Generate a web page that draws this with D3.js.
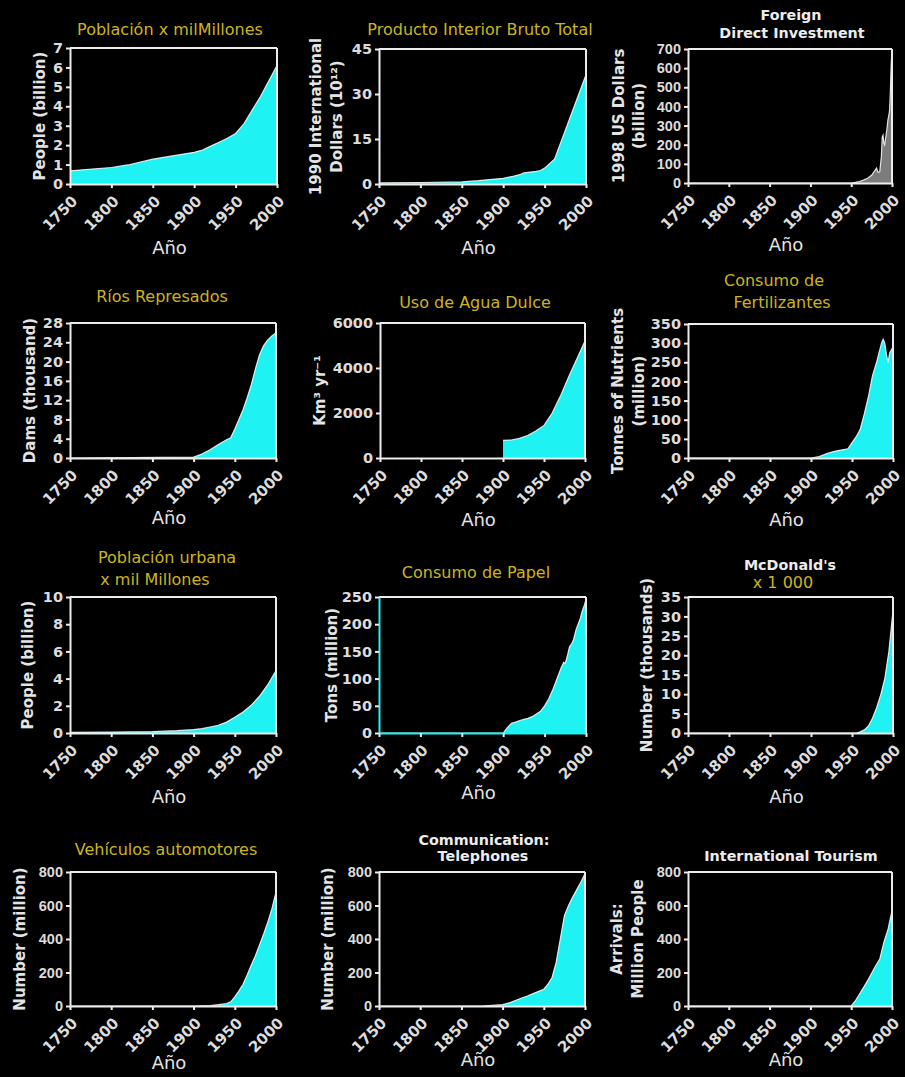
<!DOCTYPE html>
<html><head><meta charset="utf-8">
<script src="https://cdn.jsdelivr.net/npm/d3@7"></script>
<style>html,body{margin:0;background:#000;} svg{display:block;background:#000}</style>
</head><body><svg id="c" width="905" height="1077"></svg>
<script>
// ---------- DATA ----------
const xTickYears = [1750, 1800, 1850, 1900, 1950, 2000];

const popYears   = [1750,1800,1820,1850,1870,1900,1910,1920,1930,1940,1950,1955,1960,1970,1980,1990,2000];
const popValues  = [0.68,0.85,0.98,1.28,1.42,1.63,1.75,1.95,2.15,2.35,2.6,2.85,3.1,3.8,4.5,5.3,6.1];
const popTicks   = [0,1,2,3,4,5,6,7];

const gdpYears   = [1750,1800,1850,1870,1900,1913,1920,1925,1930,1940,1945,1950,1962,1970,1980,1990,2000];
const gdpValues  = [0.35,0.5,0.7,1.1,1.9,2.6,3.1,3.7,3.9,4.2,4.5,5.3,8.3,14.2,21.6,29,36.4];
const gdpTicks   = [0,15,30,45];

const fdiYears   = [1750,1950,1955,1960,1965,1970,1975,1979,1981,1983,1985,1987,1988,1989,1990,1991,1992,1993,1994,1995,1996,1997,1998,1999,2000];
const fdiValues  = [0,0,3,8,15,25,40,65,78,55,60,140,240,250,210,200,230,260,290,330,350,380,480,620,700];
const fdiTicks   = [0,100,200,300,400,500,600,700];

const damYears   = [1750,1900,1910,1920,1930,1940,1945,1950,1955,1960,1965,1970,1975,1980,1985,1990,1995,2000];
const damValues  = [0,0.2,0.8,1.7,2.8,3.8,4.2,6,8,10,12.5,15.2,18.5,21.4,23.3,24.5,25.3,26];
const damTicks   = [0,4,8,12,16,20,24,28];

const waterYears = [1900,1910,1920,1930,1940,1950,1960,1970,1980,1990,2000];
const waterValues= [780,800,870,1000,1200,1450,2000,2750,3600,4400,5200];
const waterTicks = [0,2000,4000,6000];

const fertYears  = [1750,1900,1910,1920,1930,1940,1945,1950,1955,1960,1965,1970,1975,1980,1983,1986,1988,1990,1992,1994,1996,2000];
const fertValues = [0,0,4,12,18,22,24,40,55,75,115,160,215,250,275,300,310,300,270,250,275,290];
const fertTicks  = [0,50,100,150,200,250,300,350];

const urbYears   = [1750,1800,1850,1880,1900,1910,1920,1930,1940,1950,1960,1970,1980,1990,2000];
const urbValues  = [0.05,0.07,0.1,0.17,0.25,0.32,0.44,0.57,0.8,1.15,1.55,2.05,2.7,3.55,4.6];
const urbTicks   = [0,2,4,6,8,10];

const papYears   = [1750,1900,1905,1910,1915,1920,1925,1930,1935,1940,1945,1950,1955,1960,1965,1970,1973,1975,1978,1980,1983,1985,1988,1990,1993,1995,1998,2000];
const papValues  = [0,0,10,18,20,23,25,27,30,35,40,50,63,80,100,120,130,128,145,158,165,172,190,198,210,222,235,245];
const papTicks   = [0,50,100,150,200,250];

const mcdYears   = [1750,1955,1960,1965,1970,1975,1980,1985,1990,1995,2000];
const mcdValues  = [0,0,0.3,0.8,1.8,3.8,6.5,9.8,14,21,31.5];
const mcdTicks   = [0,5,10,15,20,25,30,35];

const vehYears   = [1750,1900,1920,1930,1940,1945,1950,1955,1960,1965,1970,1975,1980,1985,1990,1995,2000];
const vehValues  = [0,0,3,8,15,25,55,90,130,185,245,300,365,430,500,580,680];
const vehTicks   = [0,200,400,600,800];

const telYears   = [1750,1875,1900,1910,1920,1930,1940,1950,1955,1960,1965,1970,1975,1980,1985,1990,1995,2000];
const telValues  = [0,0,8,22,42,60,80,100,130,170,260,400,540,600,650,695,740,790];
const telTicks   = [0,200,400,600,800];

const touYears   = [1750,1950,1955,1960,1965,1970,1975,1980,1985,1990,1995,2000];
const touValues  = [0,0,30,70,110,150,195,240,280,380,455,570];
const touTicks   = [0,200,400,600,800];

// ---------- STYLE / LAYOUT ----------
const YEL = "#ccb51c", WHT = "#ececec", CYAN = "#1ff2f2";
const FD = "'DejaVu Sans', sans-serif", FL = "'Liberation Sans', Arial, sans-serif";

const panels = [
 {years:popYears, values:popValues, ticks:popTicks, box:[70,48,277,184],
  title:[{t:"Población x milMillones",x:170,y:29,c:YEL}], ylab:[{t:"People (billion)",x:40}], anoY:248, yf:FD},
 {years:gdpYears, values:gdpValues, ticks:gdpTicks, box:[379,49,586,184],
  title:[{t:"Producto Interior Bruto Total",x:480,y:29,c:YEL}], ylab:[{t:"1990 International",x:316},{t:"Dollars (10¹²)",x:337}], anoY:248, yf:FD},
 {years:fdiYears, values:fdiValues, ticks:fdiTicks, box:[688,49,892,183], fill:"#7c7c7c",
  title:[{t:"Foreign",x:791,y:15,c:WHT,b:1},{t:"Direct Investment",x:792,y:33,c:WHT,b:1}], ylab:[{t:"1998 US Dollars",x:619},{t:"(billion)",x:639}], anoY:245, yf:FL},
 {years:damYears, values:damValues, ticks:damTicks, box:[70,323,276,458],
  title:[{t:"Ríos Represados",x:162,y:296,c:YEL}], ylab:[{t:"Dams (thousand)",x:30}], anoY:518, yf:FD},
 {years:waterYears, values:waterValues, ticks:waterTicks, box:[380,323,585,458],
  title:[{t:"Uso de Agua Dulce",x:475,y:302,c:YEL}], ylab:[{t:"Km³ yr⁻¹",x:320}], anoY:520, yf:FD},
 {years:fertYears, values:fertValues, ticks:fertTicks, box:[688,324,893,458],
  title:[{t:"Consumo de",x:774,y:280,c:YEL},{t:"Fertilizantes",x:782,y:302,c:YEL}], ylab:[{t:"Tonnes of Nutrients",x:618},{t:"(million)",x:639}], anoY:520, yf:FD},
 {years:urbYears, values:urbValues, ticks:urbTicks, box:[70,597,276,733],
  title:[{t:"Población urbana",x:167,y:557,c:YEL},{t:"x mil Millones",x:155,y:579,c:YEL}], ylab:[{t:"People (billion)",x:28}], anoY:797, yf:FD},
 {years:papYears, values:papValues, ticks:papTicks, box:[379,597,586,733], edge:CYAN,
  title:[{t:"Consumo de Papel",x:476,y:572,c:YEL}], ylab:[{t:"Tons (million)",x:332}], anoY:793, yf:FD},
 {years:mcdYears, values:mcdValues, ticks:mcdTicks, box:[688,597,893,733],
  title:[{t:"McDonald's",x:790,y:565,c:WHT,b:1},{t:"x 1 000",x:783,y:582,c:YEL}], ylab:[{t:"Number (thousands)",x:647}], anoY:797, yf:FD},
 {years:vehYears, values:vehValues, ticks:vehTicks, box:[70,872,276,1006],
  title:[{t:"Vehículos automotores",x:166,y:849,c:YEL}], ylab:[{t:"Number (million)",x:20}], anoY:1063, yf:FL},
 {years:telYears, values:telValues, ticks:telTicks, box:[379,872,585,1006],
  title:[{t:"Communication:",x:484,y:840,c:WHT,b:1},{t:"Telephones",x:483,y:856,c:WHT,b:1}], ylab:[{t:"Number (million)",x:328}], anoY:1060, yf:FL},
 {years:touYears, values:touValues, ticks:touTicks, box:[688,872,892,1006],
  title:[{t:"International Tourism",x:791,y:856,c:WHT,b:1}], ylab:[{t:"Arrivals:",x:617},{t:"Million People",x:638}], anoY:1060, yf:FL}
];

const svg = d3.select("#c");

panels.forEach(p => {
  const [x0,y0,x1,y1] = p.box;
  const yMax = p.ticks[p.ticks.length-1];
  const x = d3.scaleLinear().domain([1750,2000]).range([x0,x1]);
  const y = d3.scaleLinear().domain([0,yMax]).range([y1,y0]);
  const g = svg.append("g");
  const pts = p.years.map((yr,i)=>({yr, v:p.values[i]}));

  g.append("path").datum(pts)
    .attr("d", d3.area().x(d=>x(d.yr)).y0(y(0)).y1(d=>y(d.v)))
    .attr("fill", p.fill || CYAN);
  g.append("path").datum(pts)
    .attr("d", d3.line().x(d=>x(d.yr)).y(d=>y(d.v)))
    .attr("fill","none").attr("stroke","#fff").attr("stroke-width",1.2).attr("opacity",0.85);

  // box
  g.append("line").attr("x1",x0).attr("x2",x1).attr("y1",y0).attr("y2",y0).attr("stroke",WHT).attr("stroke-width",2);
  g.append("line").attr("x1",x1).attr("x2",x1).attr("y1",y0).attr("y2",y1).attr("stroke",WHT).attr("stroke-width",2);

  const ax = g.append("g").attr("transform",`translate(0,${y1})`)
    .call(d3.axisBottom(x).tickValues(xTickYears).tickFormat(d3.format("d")).tickSize(4).tickSizeOuter(0));
  const ay = g.append("g").attr("transform",`translate(${x0},0)`)
    .call(d3.axisLeft(y).tickValues(p.ticks).tickFormat(d3.format("d")).tickSize(4).tickSizeOuter(0).tickPadding(3));
  [ax,ay].forEach(a=>{
    a.selectAll("line").attr("stroke",WHT).attr("stroke-width",2);
    a.select(".domain").attr("stroke",WHT).attr("stroke-width",2);
  });
  if (p.edge) {
    ay.select(".domain").attr("stroke",p.edge);
    ax.select(".domain").attr("stroke",p.edge);
  }
  ax.selectAll("text")
    .attr("y",null).attr("dy",null)
    .attr("transform","translate(8,18) rotate(-45)")
    .attr("text-anchor","end")
    .attr("fill","#dcdcdc").attr("font-family",FD).attr("font-weight","bold").attr("font-size",15);
  ay.selectAll("text")
    .attr("fill","#dcdcdc").attr("font-family",p.yf).attr("font-weight","bold").attr("font-size",14.5);

  // titles
  p.title.forEach(t=>{
    g.append("text").attr("x",t.x).attr("y",t.y).attr("dy","0.35em")
      .attr("text-anchor","middle").attr("fill",t.c)
      .attr("font-family",FD).attr("font-weight",t.b?"bold":"normal")
      .attr("font-size",t.b?14.3:16).text(t.t);
  });
  // y labels
  const yc = (y0+y1)/2;
  p.ylab.forEach(l=>{
    g.append("text").attr("transform",`translate(${l.x},${yc}) rotate(-90)`).attr("dy","0.35em")
      .attr("text-anchor","middle").attr("fill","#e4e4e4")
      .attr("font-family",FD).attr("font-weight","bold").attr("font-size",15).text(l.t);
  });
  // Año
  g.append("text").attr("x",(x0+x1)/2-4).attr("y",p.anoY).attr("dy","0.35em")
    .attr("text-anchor","middle").attr("fill","#e4e4e4")
    .attr("font-family",FD).attr("font-size",18).text("Año");
});
</script></body></html>
